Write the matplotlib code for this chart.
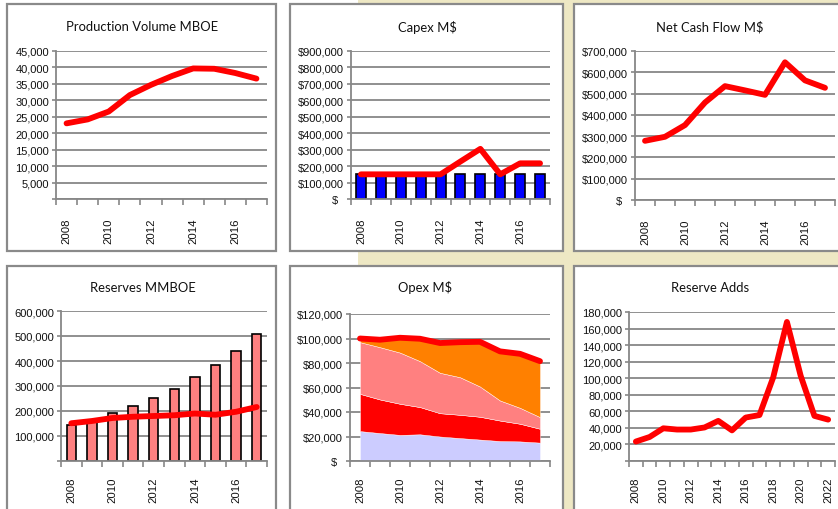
import matplotlib
matplotlib.use("Agg")
import matplotlib.pyplot as plt
from matplotlib.patches import Rectangle
from matplotlib.ticker import FuncFormatter
import numpy as np

W, H = 838, 510

# ---- data -------------------------------------------------------------
years = list(range(2008, 2018))
years_adds = list(range(2008, 2023))

production_mboe = [23000, 24200, 26600, 31600, 34700, 37400, 39700, 39600, 38300, 36600]

capex_budget = [150000] * 10
capex_actual = [150000, 150000, 150000, 150000, 150000, 228000, 305000, 150000, 217000, 217000]

net_cash_flow = [278000, 297000, 352000, 458000, 535000, 515000, 494000, 647000, 562000, 527000]

reserves_bars = [145000, 165000, 193000, 221000, 254000, 289000, 335000, 386000, 442000, 509000]
reserves_line = [151000, 160000, 172000, 177000, 180000, 183000, 190000, 185000, 197000, 216000]

opex_cat1 = [24400, 22800, 21300, 21800, 20000, 18700, 17500, 16300, 16000, 15000]
opex_cat2 = [30400, 27400, 25400, 22200, 19000, 19000, 18600, 16700, 14400, 11300]
opex_cat3 = [42200, 42700, 41800, 37500, 33000, 30700, 24700, 16400, 13000, 9500]
opex_cat4 = [3000, 6600, 11500, 18700, 24600, 28600, 36400, 40200, 44300, 45200]
opex_total = [100000, 99000, 100600, 99800, 96300, 97000, 97300, 89500, 87500, 81500]

reserve_adds = [23500, 29000, 39500, 38000, 38000, 40500, 48500, 37000, 52500, 55500,
                101000, 168000, 103000, 54500, 50000]

# ---- styling ----------------------------------------------------------
RED = "#FF0000"
GRID = "#878787"
BORDER = "#8A8A8A"
TITLE_FONT = "Lato"
TICK_FONT = "Liberation Sans"

fig = plt.figure(figsize=(W / 100, H / 100), dpi=100, facecolor="white")

# page background: white on the left, pale yellow on the right
fig.patches.append(Rectangle((358 / W, 0), 1 - 358 / W, 1, transform=fig.transFigure,
                             facecolor="#EEE8C4", edgecolor="none", zorder=0))


def px_rect(x0, y0, x1, y1):
    return [x0 / W, 1 - y1 / H, (x1 - x0) / W, (y1 - y0) / H]


def panel(x0, y0, x1, y1):
    fig.patches.append(Rectangle((x0 / W, 1 - y1 / H), (x1 - x0) / W, (y1 - y0) / H,
                                 transform=fig.transFigure, facecolor="white",
                                 edgecolor=BORDER, linewidth=1.6, zorder=1))


def title(text, cx, cy):
    fig.text(cx / W, 1 - cy / H, text, ha="center", va="center",
             fontsize=9.4, family=TITLE_FONT, color="#111111", zorder=5)


def style_axes(ax, n, labels, ymax, ystep, fmt, label_pad):
    ax.set_facecolor("none")
    ax.set_xlim(0, n)
    ax.set_ylim(0, ymax)
    for s in ("top", "right"):
        ax.spines[s].set_visible(False)
    for s in ("left", "bottom"):
        ax.spines[s].set_color(GRID)
        ax.spines[s].set_linewidth(1.3)
    ax.set_yticks(np.arange(0, ymax + 1, ystep))
    ax.yaxis.set_major_formatter(FuncFormatter(fmt))
    ax.yaxis.grid(True, color=GRID, linewidth=1.3)
    ax.set_axisbelow(True)
    ax.tick_params(axis="y", length=3, width=1.2, color=GRID, pad=2,
                   labelsize=8, labelcolor="#111111")
    # category boundary ticks (unlabelled) and centred year labels
    ax.set_xticks(np.arange(0, n + 1))
    ax.set_xticklabels([])
    ax.tick_params(axis="x", which="major", length=4, width=1.2, color=GRID, direction="out")
    ax.set_xticks(np.arange(n) + 0.5, minor=True)
    ax.set_xticklabels(labels, minor=True)
    ax.tick_params(axis="x", which="minor", length=0, pad=label_pad, labelsize=8.2,
                   labelrotation=90, labelcolor="#111111")
    for lab in ax.get_xticklabels(minor=True) + ax.get_yticklabels():
        lab.set_family(TICK_FONT)


def plain(v, pos):
    return "" if v == 0 else f"{v:,.0f}"


def dollars(v, pos):
    return "$  " if v == 0 else f"${v:,.0f}"


def every_other(yrs):
    return [str(y) if (y - yrs[0]) % 2 == 0 else "" for y in yrs]


x10 = np.arange(10) + 0.5
x15 = np.arange(15) + 0.5
LW = 4.2

# ---- panel frames -----------------------------------------------------
panel(7, 5, 276, 252)
panel(290, 5, 563, 252)
panel(574, 5, 845, 252)
panel(7, 267, 276, 520)
panel(290, 267, 563, 520)
panel(574, 267, 845, 520)

# ---- Production Volume ------------------------------------------------
ax = fig.add_axes(px_rect(56, 52, 267, 200), zorder=3)
style_axes(ax, 10, every_other(years), 45000, 5000, plain, 13)
ax.plot(x10, production_mboe, color=RED, lw=LW, solid_capstyle="round", solid_joinstyle="round")
title("Production Volume MBOE", 142, 27)

# ---- Capex ------------------------------------------------------------
ax = fig.add_axes(px_rect(351, 52, 550, 200), zorder=3)
style_axes(ax, 10, every_other(years), 900000, 100000, dollars, 13)
ax.bar(x10, capex_budget, width=0.5, color="#0000FF", edgecolor="black", linewidth=1.2, zorder=2)
ax.plot(x10, capex_actual, color=RED, lw=LW, solid_capstyle="round", solid_joinstyle="round", zorder=3)
title("Capex M$", 427, 27)

# ---- Net Cash Flow ----------------------------------------------------
ax = fig.add_axes(px_rect(635, 52, 835, 201), zorder=3)
style_axes(ax, 10, every_other(years), 700000, 100000, dollars, 13)
ax.plot(x10, net_cash_flow, color=RED, lw=LW, solid_capstyle="round", solid_joinstyle="round")
title("Net Cash Flow M$", 710, 27)

# ---- Reserves ---------------------------------------------------------
ax = fig.add_axes(px_rect(61, 312, 267, 462), zorder=3)
style_axes(ax, 10, every_other(years), 600000, 100000, plain, 11)
ax.bar(x10, reserves_bars, width=0.45, color="#FF8080", edgecolor="black", linewidth=1.2, zorder=2)
ax.plot(x10, reserves_line, color=RED, lw=LW, solid_capstyle="round", solid_joinstyle="round", zorder=3)
title("Reserves MMBOE", 143, 288)

# ---- Opex -------------------------------------------------------------
ax = fig.add_axes(px_rect(350, 315, 550, 462), zorder=3)
style_axes(ax, 10, every_other(years), 120000, 20000, dollars, 11)
ax.stackplot(x10, opex_cat1, opex_cat2, opex_cat3, opex_cat4,
             colors=["#CCCCFF", "#FF0000", "#FF8080", "#FF8000"],
             edgecolor="#FFFFFF", linewidth=0.3, zorder=2)
ax.plot(x10, opex_total, color=RED, lw=LW, solid_capstyle="round", solid_joinstyle="round", zorder=3)
title("Opex M$", 425, 288)

# ---- Reserve Adds -----------------------------------------------------
ax = fig.add_axes(px_rect(629, 313, 835, 462), zorder=3)
style_axes(ax, 15, every_other(years_adds), 180000, 20000, plain, 11)
ax.plot(x15, reserve_adds, color=RED, lw=LW, solid_capstyle="round", solid_joinstyle="round")
title("Reserve Adds", 710, 288)

fig.savefig("out.png", dpi=100, facecolor="white")
